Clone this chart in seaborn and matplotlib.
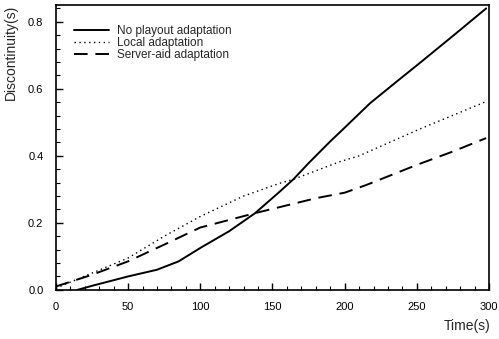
import pandas as pd
import matplotlib
matplotlib.use("Agg")
import matplotlib.pyplot as plt
import seaborn as sns
from matplotlib.ticker import MultipleLocator, FormatStrFormatter

# values
t_none = [15, 25, 50, 70, 85, 100, 120, 138, 155, 164.5, 175, 190, 200, 217.6, 235, 252, 275, 298]
no_playout = [0.0, 0.012, 0.04, 0.06, 0.085, 0.125, 0.175, 0.229, 0.293, 0.33, 0.378,
              0.443, 0.484, 0.557, 0.618, 0.677, 0.758, 0.84]

t_local = [0, 25, 50, 75, 100, 130, 155, 164.5, 197, 210, 252, 298]
local = [0.005, 0.05, 0.095, 0.16, 0.219, 0.28, 0.318, 0.33, 0.383, 0.40, 0.48, 0.562]

t_server = [0, 25, 50, 75, 100, 138, 180.6, 200, 215, 250, 275, 298]
server_aid = [0.01, 0.045, 0.085, 0.135, 0.186, 0.229, 0.274, 0.29, 0.313, 0.373, 0.413, 0.453]

sns.set_style("ticks")
plt.rcParams['font.family'] = ['Liberation Sans', 'DejaVu Sans']

fig = plt.figure(figsize=(4.99, 3.39), dpi=100)
ax = fig.add_axes([0.112, 0.145, 0.868, 0.84])

sns.lineplot(x=t_none, y=no_playout, ax=ax, color='black', lw=1.4,
             label='No playout adaptation')
sns.lineplot(x=t_local, y=local, ax=ax, color='black', lw=1.0,
             linestyle=(0, (1, 2.5)), label='Local adaptation')
sns.lineplot(x=t_server, y=server_aid, ax=ax, color='black', lw=1.4,
             linestyle=(0, (7, 4)), label='Server-aid adaptation')

ax.set_xlim(0, 300)
ax.set_ylim(0, 0.85)
ax.xaxis.set_major_locator(MultipleLocator(50))
ax.xaxis.set_minor_locator(MultipleLocator(10))
ax.yaxis.set_major_locator(MultipleLocator(0.2))
ax.yaxis.set_minor_locator(MultipleLocator(0.04))
ax.yaxis.set_major_formatter(FormatStrFormatter('%.1f'))
ax.tick_params(which='both', direction='in', top=False, right=False,
               labelsize=8, colors='black')
ax.tick_params(which='major', length=5, width=1, pad=9)
ax.tick_params(which='minor', length=3, width=0.8)
for s in ax.spines.values():
    s.set_color('black')
    s.set_linewidth(1.2)

ax.set_ylabel('Discontinuity(s)', fontsize=10)
ax.yaxis.set_label_coords(-0.088, 0.835)
ax.set_xlabel('')
fig.text(0.982, 0.038, 'Time(s)', ha='right', va='center', fontsize=10)

leg = ax.legend(loc='upper left', bbox_to_anchor=(0.03, 0.945), frameon=False,
                fontsize=8.5, handlelength=3.0, handletextpad=0.7,
                labelspacing=0.0, borderaxespad=0)

fig.savefig('out.png', dpi=100)
